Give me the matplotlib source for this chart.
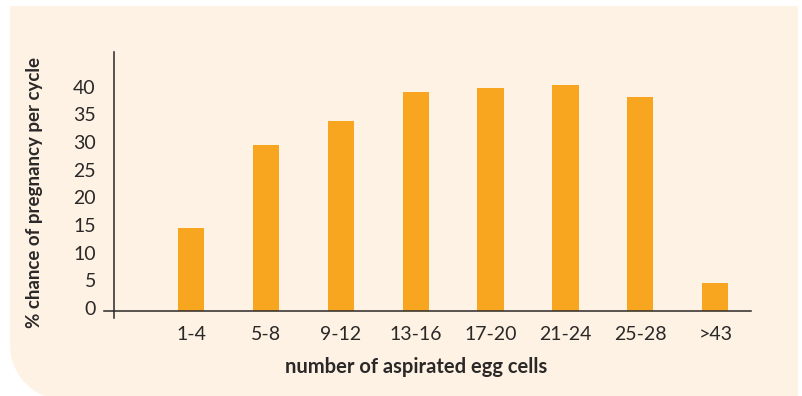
import matplotlib.pyplot as plt
import numpy as np
from matplotlib.patches import PathPatch
from matplotlib.path import Path
from matplotlib.transforms import ScaledTranslation

categories = ['1-4', '5-8', '9-12', '13-16', '17-20', '21-24', '25-28', '>43']
pregnancy_rate = [15, 30, 34.4, 39.6, 40.3, 40.9, 38.7, 5]
y_ticks = [0, 5, 10, 15, 20, 25, 30, 35, 40]

W, H = 802, 396
BG = '#fdf2e3'
BAR = '#f8a51f'
INK = '#2b2828'

plt.rcParams['font.family'] = ['Lato', 'DejaVu Sans']

fig = plt.figure(figsize=(W / 100, H / 100), dpi=100)
fig.patch.set_facecolor('white')

def px(x, y):
    # pixel coords (top-left origin) -> figure fraction
    return (x / W, 1 - y / H)

# beige panel, only the bottom-left corner rounded
r = 55
verts = [(10, 6), (798, 6), (798, 400), (65, 400)]
for a in np.linspace(np.pi / 2, np.pi, 20):
    verts.append((65 + r * np.cos(a), 345 + r * np.sin(a)))
verts.append((10, 6))
panel = PathPatch(Path([px(x, y) for x, y in verts]), facecolor=BG, edgecolor='none',
                  transform=fig.transFigure, zorder=-10)
fig.patches.append(panel)

scale = 5.53  # px per unit
ax = fig.add_axes([104 / W, (H - 311) / H, (751 - 104) / W, (311 - 52) / H])
ax.set_facecolor('none')
ax.set_zorder(1)
pos = np.arange(1, len(categories) + 1)
ax.bar(pos, pregnancy_rate, width=0.35, color=BAR, zorder=2)

ax.set_xlim(-0.162, 8.477)
ax.set_ylim(0, 259 / scale)

for s in ['top', 'right']:
    ax.spines[s].set_visible(False)
ax.spines['left'].set_position(('data', -0.03))
ax.spines['left'].set_bounds(-7 / scale, 259 / scale)
for s in ['left', 'bottom']:
    ax.spines[s].set_color(INK)
    ax.spines[s].set_linewidth(1.1)

ax.set_yticks(y_ticks)
ax.set_yticklabels([str(v) for v in y_ticks])
ax.set_xticks(pos)
ax.set_xticklabels(categories)
ax.tick_params(axis='y', length=0, pad=13, labelsize=14, labelcolor=INK)
ax.tick_params(axis='x', length=0, pad=11, labelsize=14, labelcolor=INK)
for lab in ax.get_yticklabels():
    lab.set_transform(lab.get_transform() + ScaledTranslation(0, 3 / 100, fig.dpi_scale_trans))

fig.text(*px(416, 367), 'number of aspirated egg cells', ha='center', va='center',
         fontsize=14.5, fontweight='bold', color=INK)
fig.text(*px(35, 193), '% chance of pregnancy per cycle', ha='center', va='center',
         rotation=90, fontsize=13.5, fontweight='bold', color=INK)

fig.savefig('out.png', dpi=100, facecolor=fig.get_facecolor())
